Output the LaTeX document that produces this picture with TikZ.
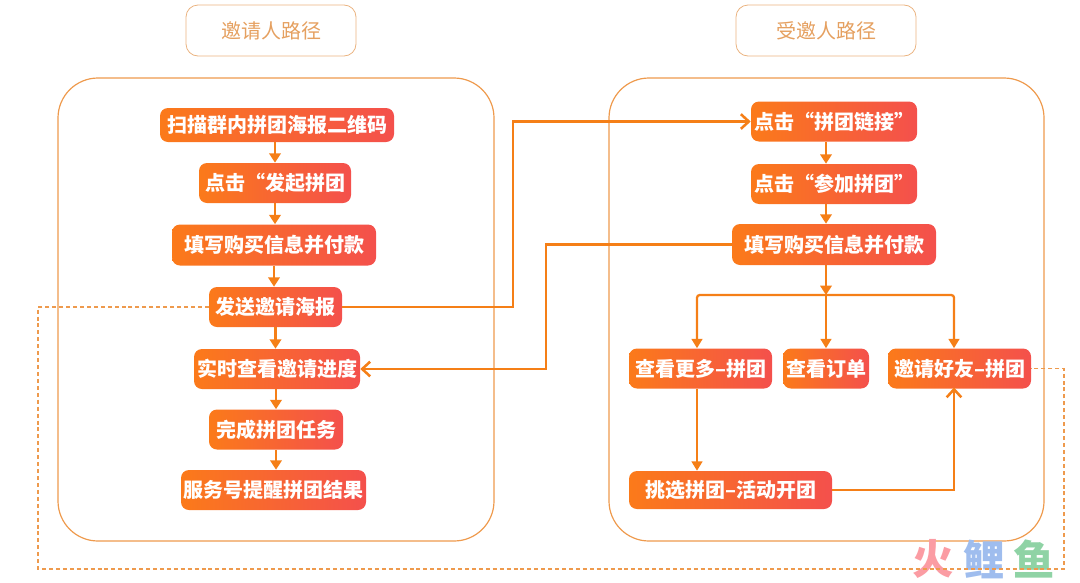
\documentclass[tikz,border=0pt]{standalone}
\usepackage{fontspec}
\setmainfont{Noto Sans CJK SC}
\usetikzlibrary{arrows.meta,positioning,calc}
\definecolor{lineorange}{HTML}{F57F17}
\definecolor{frameorange}{HTML}{EE9A4D}
\definecolor{titletan}{HTML}{E5A060}
\definecolor{boxleft}{HTML}{FB7A1A}
\definecolor{boxright}{HTML}{F4504C}
\definecolor{wmred}{HTML}{FB9CA3}
\definecolor{wmblue}{HTML}{9FBDEE}
\definecolor{wmgreen}{HTML}{8FD3A5}
\tikzset{
  boxw/.style={minimum width=#1*0.75pt},
  boxh/.style={minimum height=#1*0.75pt},
  flowbox/.style={rectangle,rounded corners=6pt,left color=boxleft,right color=boxright,
    text=white,font=\bfseries\fontsize{15}{15}\selectfont,inner sep=0pt,boxh=40},
  titlebox/.style={rectangle,draw=titletan!80!white,rounded corners=9pt,line width=0.6pt,text=titletan,
    font=\fontsize{15}{15}\selectfont,inner sep=0pt,boxh=51},
  panel/.style={rectangle,draw=frameorange,rounded corners=30pt,line width=0.9pt,inner sep=0pt},
  flow/.style={draw=lineorange,line width=2.2pt,-{Triangle[length=7pt,width=8.5pt]}},
  branch/.style={draw=lineorange,line width=1.7pt,rounded corners=2pt,-{Triangle[length=7pt,width=8pt]}},
  link/.style={draw=lineorange,line width=1.9pt,-{Straight Barb[length=6pt,width=11pt,line width=1.9pt]}},
  share/.style={draw=frameorange,line width=1.1pt,dash pattern=on 3pt off 2.2pt},
  wmark/.style={font=\bfseries\fontsize{31}{31}\selectfont,inner sep=0pt},
}
\begin{document}
\begin{tikzpicture}[x=0.75pt,y=-0.75pt]
    \useasboundingbox (0,0) rectangle (1080,582);
    % two frames and their titles
    \node[panel,minimum width=327pt,minimum height=347.25pt] (leftpanel) at (276,309.5) {};
    \node[panel,minimum width=326.25pt,minimum height=347.25pt] (rightpanel) at (826.5,309.5) {};
    \node[titlebox,boxw=170] (lefttitle) at (271,30.5) {邀请人路径};
    \node[titlebox,boxw=180] (righttitle) at (826,30.5) {受邀人路径};
    % watermark
    \node[wmark,text=wmred] (wmfire) at (933,559) {火};
    \node[wmark,text=wmblue] (wmcarp) at (984,559) {鲤};
    \node[wmark,text=wmgreen] (wmfish) at (1034,559) {鱼};
    % inviter steps
    \node[flowbox,boxw=234,boxh=34] (scan) at (277,125) {扫描群内拼团海报二维码};
    \node[flowbox,boxw=152] (start) at (275,183) {点击“发起拼团};
    \node[flowbox,boxw=204,boxh=41] (payl) at (274,245) {填写购买信息并付款};
    \node[flowbox,boxw=133] (poster) at (275.5,307) {发送邀请海报};
    \node[flowbox,boxw=166] (progress) at (277,369) {实时查看邀请进度};
    \node[flowbox,boxw=134] (finish) at (276,429.5) {完成拼团任务};
    \node[flowbox,boxw=185] (notice) at (273.5,490) {服务号提醒拼团结果};
    % invitee steps
    \node[flowbox,boxw=166] (linkclick) at (834,121.5) {点击“拼团链接”};
    \node[flowbox,boxw=166] (join) at (834,184) {点击“参加拼团”};
    \node[flowbox,boxw=204,boxh=41] (payr) at (834,244.5) {填写购买信息并付款};
    \node[flowbox,boxw=143] (more) at (700.5,368.5) {查看更多–拼团};
    \node[flowbox,boxw=86] (orders) at (826,368.5) {查看订单};
    \node[flowbox,boxw=143] (friends) at (959.5,368.5) {邀请好友–拼团};
    \node[flowbox,boxw=203,boxh=38] (pick) at (730.5,490) {挑选拼团–活动开团};
    % bends
    \coordinate (fork) at (826,295);
    \coordinate (forkl) at (697,295);
    \coordinate (forkr) at (954,295);
    \coordinate (bendup) at (513,307);
    \coordinate (benddown) at (546,244.5);
    \coordinate (dashl) at (38,569);
    \coordinate (dashr) at (1064,569);
    % left column
    \draw[flow] (scan.south -| start) -- (start);
    \draw[flow] (start) -- (start |- payl.north);
    \draw[flow] (payl) -- (payl |- poster.north);
    \draw[flow] (poster) -- (poster |- progress.north);
    \draw[flow] (progress.south -| finish) -- (finish);
    \draw[flow] (finish) -- (finish |- notice.north);
    % right column
    \draw[flow] (linkclick.south -| fork) -- (fork |- join.north);
    \draw[flow] (join.south -| fork) -- (fork |- payr.north);
    \draw[branch] (fork) -- (forkl) -- (forkl |- more.north);
    \draw[branch] (fork) -- (forkr) -- (forkr |- friends.north);
    \draw[branch] (fork) -- (fork |- orders.north);
    \draw[flow] (payr.south -| fork) -- (fork);
    \draw[branch] (more.south -| forkl) -- (forkl |- pick.north);
    % cross links
    \draw[link] (poster.east) -- (bendup) |- (linkclick.west);
    \draw[link] (payr.west) -- (benddown) |- (progress.east);
    \draw[link] (pick.east) -| ([yshift=1pt]forkr |- friends.south);
    % dashed share loop
    \draw[share] (poster.west) -| (dashl) -- (dashr) |- (friends.east);
  \end{tikzpicture}
\end{document}
